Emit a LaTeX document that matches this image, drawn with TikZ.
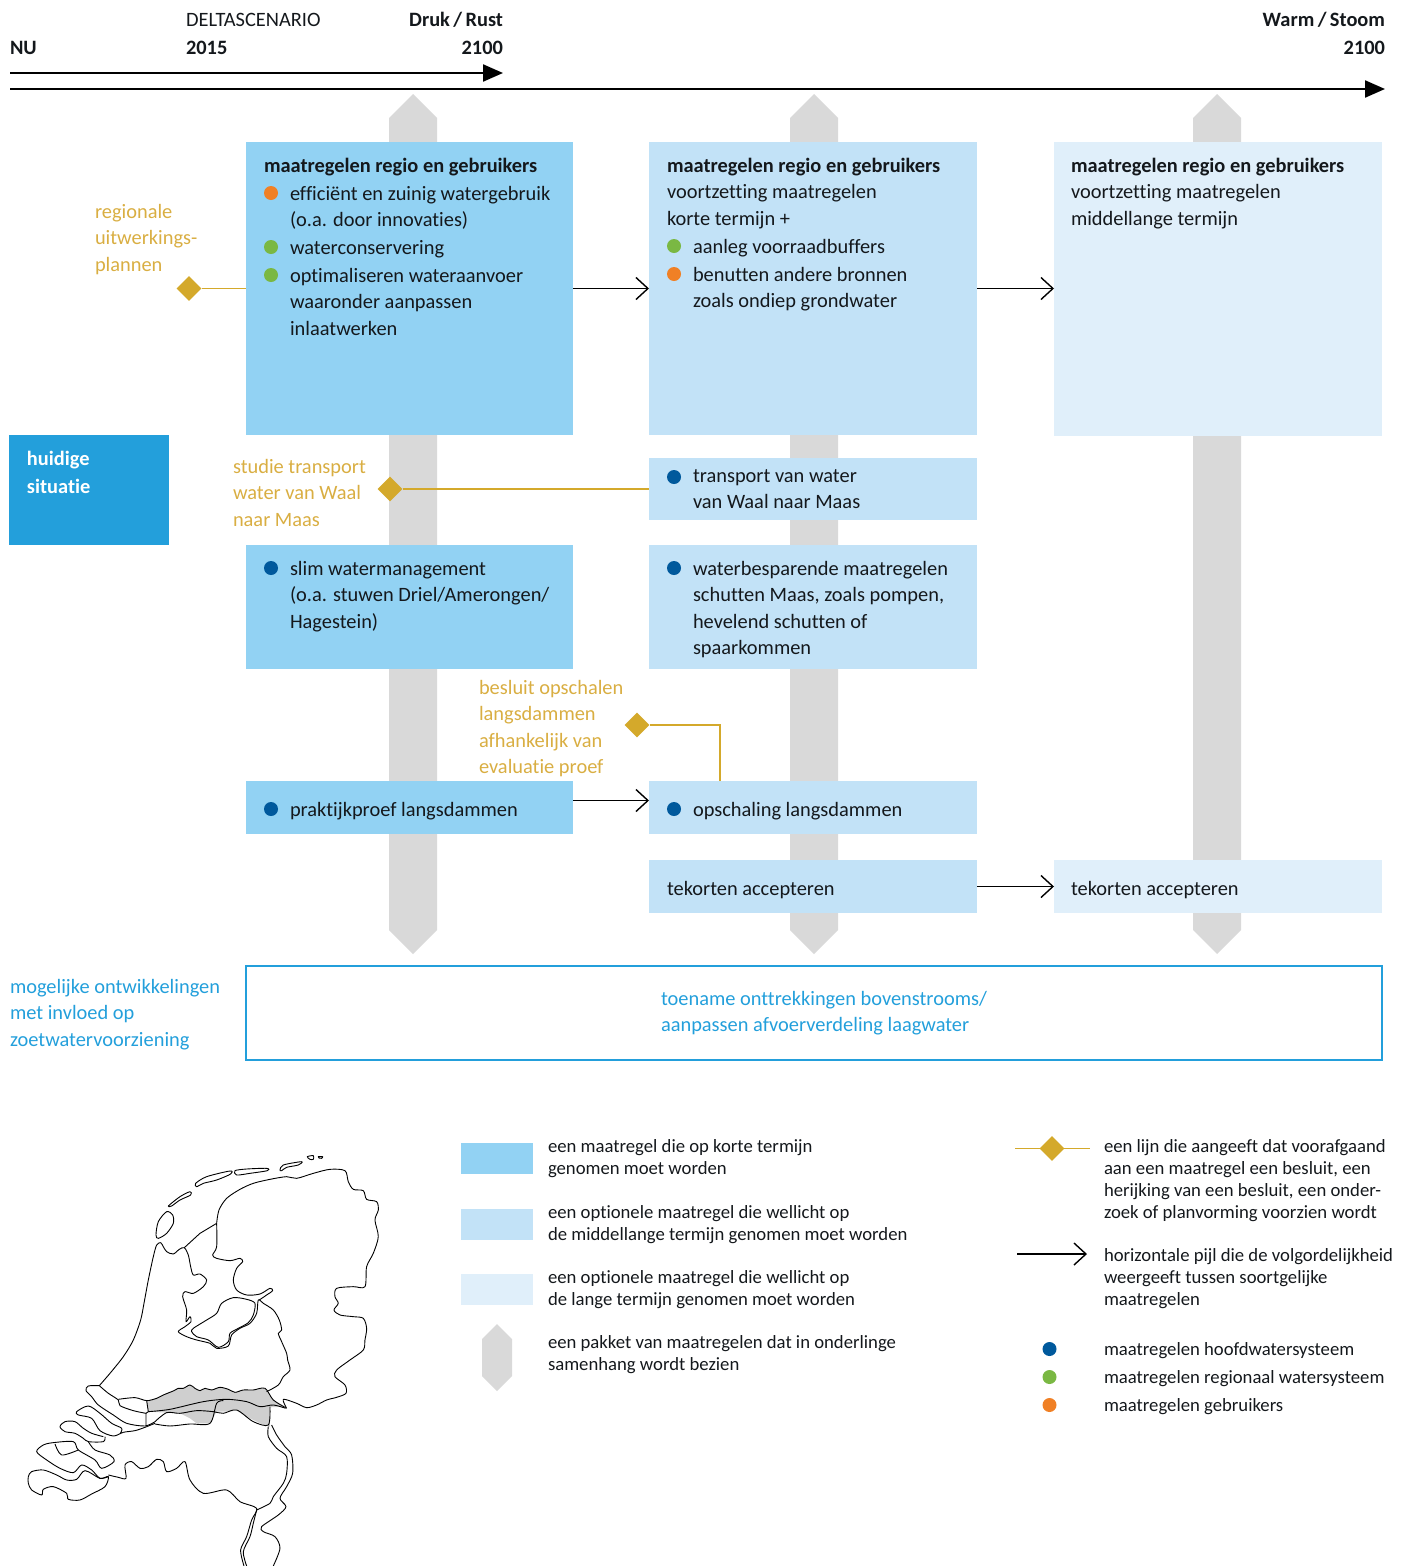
\documentclass[tikz,border=0pt]{standalone}
\usepackage{fontspec}
\setmainfont{Carlito}[Ligatures=NoCommon]
\usepackage{tikz}
\usetikzlibrary{arrows.meta,calc,shapes.geometric}
\definecolor{kortblue}{HTML}{92D2F3}
\definecolor{middenblue}{HTML}{C2E2F7}
\definecolor{langblue}{HTML}{E0EFFA}
\definecolor{nowblue}{HTML}{239FDB}
\definecolor{hoofdblue}{HTML}{00599C}
\definecolor{regiogreen}{HTML}{7AB843}
\definecolor{userorange}{HTML}{F08025}
\definecolor{gold}{HTML}{D4A92B}
\definecolor{goldtext}{HTML}{D9AE42}
\definecolor{pakketgrey}{HTML}{D9D9D9}
\definecolor{mapgrey}{HTML}{CFCFCF}
\definecolor{inktext}{HTML}{14181C}
\tikzset{
    box/.style={anchor=north west, inner sep=0pt, outer sep=0pt},
    txt/.style={anchor=north west, inner sep=0pt, outer sep=0pt, align=left, text=inktext,
        font=\fontsize{20.4}{26.5}\selectfont, yshift=18.55pt},
    txtr/.style={txt, anchor=north east, align=right},
    legendtxt/.style={anchor=north west, inner sep=0pt, outer sep=0pt, align=left, text=inktext,
        font=\fontsize{18.7}{22}\selectfont, yshift=15.4pt},
    dot/.style={circle, inner sep=0pt, minimum size=14pt},
    golddiamond/.style={diamond, fill=gold, inner sep=0pt, minimum size=25pt},
    goldline/.style={gold, line width=1.6pt},
    steparrow/.style={-{Straight Barb[length=12pt,width=22pt,line width=1.4pt]}, line width=1.5pt},
    timeline/.style={-{Triangle[length=20pt,width=17pt]}, line width=2.2pt},
    mapline/.style={black, line width=0.9pt, line join=round},
}
\begin{document}
\begin{tikzpicture}[x=1pt,y=-1pt]
    \useasboundingbox (0,0) rectangle (1406,1566);

    % Timelines
    \coordinate (nuTop) at (10,73);
    \coordinate (rustEnd) at (503,73);
    \coordinate (nuLow) at (10,89);
    \coordinate (stoomEnd) at (1385,89);
    \draw[timeline] (nuTop) -- (rustEnd);
    \draw[timeline] (nuLow) -- (stoomEnd);
    \node[txt] (nu) at (10,54) {\strut\textbf{NU}};
    \node[txt] (delta) at (186,26) {\strut DELTASCENARIO};
    \node[txt] (jaarNu) at (186,54) {\strut\textbf{2015}};
    \node[txtr] (rust) at (503,26) {\strut\textbf{Druk\,/\,Rust}};
    \node[txtr] (jaarRust) at (503,54) {\strut\textbf{2100}};
    \node[txtr] (stoom) at (1385,26) {\strut\textbf{Warm\,/\,Stoom}};
    \node[txtr] (jaarStoom) at (1385,54) {\strut\textbf{2100}};

    % Grey packages
    \foreach \cx in {413,814,1217} {
        \fill[pakketgrey] (\cx-24,118) -- (\cx,94) -- (\cx+24,118) -- (\cx+24,930) -- (\cx,954) -- (\cx-24,930) -- cycle;
    }

    % Boxes
    \node[box, fill=nowblue, minimum width=160pt, minimum height=110pt] (huidig) at (9,435) {};
    \node[box, fill=kortblue, minimum width=327pt, minimum height=293pt] (regioKort) at (246,142) {};
    \node[box, fill=middenblue, minimum width=328pt, minimum height=293pt] (regioMidden) at (649,142) {};
    \node[box, fill=langblue, minimum width=328pt, minimum height=294pt] (regioLang) at (1054,142) {};
    \node[box, fill=middenblue, minimum width=328pt, minimum height=62pt] (transport) at (649,458) {};
    \node[box, fill=kortblue, minimum width=327pt, minimum height=124pt] (slim) at (246,545) {};
    \node[box, fill=middenblue, minimum width=328pt, minimum height=124pt] (sparen) at (649,545) {};
    \node[box, fill=kortblue, minimum width=327pt, minimum height=53pt] (proef) at (246,781) {};
    \node[box, fill=middenblue, minimum width=328pt, minimum height=53pt] (schaal) at (649,781) {};
    \node[box, fill=middenblue, minimum width=328pt, minimum height=53pt] (tekortMidden) at (649,860) {};
    \node[box, fill=langblue, minimum width=328pt, minimum height=53pt] (tekortLang) at (1054,860) {};
    \node[box, draw=nowblue, line width=1.6pt, minimum width=1136pt, minimum height=94pt] (ontwikkeling) at (246,966) {};

    % Arrows between boxes
    \draw[steparrow] (regioKort.east) -- (regioMidden.west);
    \draw[steparrow] (regioMidden.east) -- (regioMidden.east -| regioLang.west);
    \draw[steparrow] ($(proef.east)+(0,-7)$) -- ($(schaal.west)+(0,-7)$);
    \draw[steparrow] (tekortMidden.east) -- (tekortLang.west);

    % Decision lines
    \node[golddiamond] (markRegio) at (189,288.5) {};
    \node[golddiamond] (markStudie) at (390,489) {};
    \node[golddiamond] (markBesluit) at (637,725) {};
    \coordinate (schaalTop) at (720,781);
    \draw[goldline] (markRegio) -- (regioKort.west);
    \draw[goldline] (markStudie) -- (transport.west);
    \draw[goldline] (markBesluit) -| (schaalTop);

    % Gold labels
    \node[txt, text=goldtext] (lblRegio) at (95,218) {\strut regionale\\uitwerkings-\\plannen};
    \node[txt, text=goldtext] (lblStudie) at (233,473) {\strut studie transport\\water van Waal\\naar Maas};
    \node[txt, text=goldtext] (lblBesluit) at (479,694) {\strut besluit opschalen\\langsdammen\\afhankelijk van\\evaluatie proef};

    % Text first column
    \node[txt, text=white] (lblHuidig) at (27,465) {\strut\textbf{huidige}\\[1.5pt]\textbf{situatie}};
    \node[txt] (kopKort) at (264,172) {\strut\textbf{maatregelen regio en gebruikers}};
    \node[dot, fill=userorange] (dotK1) at (271,193) {};
    \node[txt] (itemK1) at (290,200) {\strut efficiënt en zuinig watergebruik\\(o.a. door innovaties)};
    \node[dot, fill=regiogreen] (dotK2) at (271,247) {};
    \node[txt] (itemK2) at (290,254) {\strut waterconservering};
    \node[dot, fill=regiogreen] (dotK3) at (271,275) {};
    \node[txt] (itemK3) at (290,282) {\strut optimaliseren wateraanvoer\\waaronder aanpassen\\inlaatwerken};
    \node[dot, fill=hoofdblue] (dotSlim) at (271,568) {};
    \node[txt] (itemSlim) at (290,575) {\strut slim watermanagement\\(o.a. stuwen Driel/Amerongen/\\Hagestein)};
    \node[dot, fill=hoofdblue] (dotProef) at (271,809) {};
    \node[txt] (itemProef) at (290,816) {\strut praktijkproef langsdammen};

    % Text second column
    \node[txt] (kopMidden) at (667,172) {\strut\textbf{maatregelen regio en gebruikers}\\voortzetting maatregelen\\korte termijn +};
    \node[dot, fill=regiogreen] (dotM1) at (674,246) {};
    \node[txt] (itemM1) at (693,253) {\strut aanleg voorraadbuffers};
    \node[dot, fill=userorange] (dotM2) at (674,274) {};
    \node[txt] (itemM2) at (693,281) {\strut benutten andere bronnen\\zoals ondiep grondwater};
    \node[dot, fill=hoofdblue] (dotTransport) at (674,477) {};
    \node[txt] (itemTransport) at (693,482) {\strut transport van water\\van Waal naar Maas};
    \node[dot, fill=hoofdblue] (dotSparen) at (674,568) {};
    \node[txt] (itemSparen) at (693,575) {\strut waterbesparende maatregelen\\schutten Maas, zoals pompen,\\hevelend schutten of\\spaarkommen};
    \node[dot, fill=hoofdblue] (dotSchaal) at (674,809) {};
    \node[txt] (itemSchaal) at (693,816) {\strut opschaling langsdammen};
    \node[txt] (itemTekortM) at (667,895) {\strut tekorten accepteren};

    % Text third column
    \node[txt] (kopLang) at (1071,172) {\strut\textbf{maatregelen regio en gebruikers}\\voortzetting maatregelen\\middellange termijn};
    \node[txt] (itemTekortL) at (1071,895) {\strut tekorten accepteren};

    % Developments
    \node[txt, text=nowblue] (lblMogelijk) at (10,993) {\strut mogelijke ontwikkelingen\\met invloed op\\zoetwatervoorziening};
    \node[txt, text=nowblue] (lblToename) at (661,1005) {\strut toename onttrekkingen bovenstrooms/\\aanpassen afvoerverdeling laagwater};

    % Legend middle
    \node[box, fill=kortblue, minimum width=72pt, minimum height=31pt] (keyKort) at (461,1143) {};
    \node[box, fill=middenblue, minimum width=72pt, minimum height=31pt] (keyMidden) at (461,1209) {};
    \node[box, fill=langblue, minimum width=72pt, minimum height=31pt] (keyLang) at (461,1274) {};
    \fill[pakketgrey] (482,1339) -- (497,1324) -- (512,1339) -- (512,1376) -- (497,1391) -- (482,1376) -- cycle;
    \node[legendtxt] (txtKort) at (548,1152) {\strut een maatregel die op korte termijn\\genomen moet worden};
    \node[legendtxt] (txtMidden) at (548,1218) {\strut een optionele maatregel die wellicht op\\de middellange termijn genomen moet worden};
    \node[legendtxt] (txtLang) at (548,1283) {\strut een optionele maatregel die wellicht op\\de lange termijn genomen moet worden};
    \node[legendtxt] (txtPakket) at (548,1348) {\strut een pakket van maatregelen dat in onderlinge\\samenhang wordt bezien};

    % Legend right
    \coordinate (keyLineA) at (1015,1148.5);
    \coordinate (keyLineB) at (1090,1148.5);
    \coordinate (keyArrowA) at (1017,1254);
    \coordinate (keyArrowB) at (1087,1254);
    \draw[goldline] (keyLineA) -- (keyLineB);
    \node[golddiamond] (keyMark) at (1052,1148.5) {};
    \draw[steparrow] (keyArrowA) -- (keyArrowB);
    \node[legendtxt] (txtMark) at (1104,1152) {\strut een lijn die aangeeft dat voorafgaand\\aan een maatregel een besluit, een\\herijking van een besluit, een onder-\\zoek of planvorming voorzien wordt};
    \node[legendtxt] (txtArrow) at (1104,1261) {\strut horizontale pijl die de volgordelijkheid\\weergeeft tussen soortgelijke\\maatregelen};
    \node[dot, fill=hoofdblue] (keyHoofd) at (1049.5,1349) {};
    \node[dot, fill=regiogreen] (keyRegio) at (1049.5,1377) {};
    \node[dot, fill=userorange] (keyUser) at (1049.5,1405) {};
    \node[legendtxt] (txtHoofd) at (1104,1355) {\strut maatregelen hoofdwatersysteem};
    \node[legendtxt] (txtRegio) at (1104,1383) {\strut maatregelen regionaal watersysteem};
    \node[legendtxt] (txtUser) at (1104,1411) {\strut maatregelen gebruikers};

    % Map
    \begin{scope}[shift={(20,1140)}, x=0.3333pt, y=-0.3333pt]
        \fill[mapgrey] (380,782) -- (410,775) -- (430,765) -- (462,752) -- (475,745) -- (490,745) -- (510,735) -- (525,745) -- (540,752) -- (555,745) -- (575,750) -- (600,742) -- (625,748) -- (645,757) -- (670,750) -- (700,750) -- (735,745) -- (760,780) -- (795,800) -- (750,802) -- (750,860) -- (730,855) -- (690,835) -- (650,812) -- (620,815) -- (590,815) -- (570,850) -- (530,850) -- (510,835) -- (480,820) -- (440,818) -- (385,815) -- cycle;
        % West coast and lake shore
        \draw[mapline] plot[smooth, tension=0.5] coordinates {(238,737) (270,700) (310,650) (340,600) (362,540) (372,490) (385,420) (400,350) (410,315) (422,308) (430,320) (440,335) (460,342) (478,328) (493,323) (505,345) (512,380) (520,405) (540,402) (560,420) (550,440) (520,460) (495,455) (488,470) (500,510) (498,545) (510,530) (513,545) (495,560) (475,575) (500,590) (530,600) (570,610) (590,625) (625,618) (635,585) (660,565) (690,550) (710,520) (715,480) (730,490) (760,510) (778,540) (785,570) (775,580) (785,605) (800,640) (803,660) (810,690) (790,710) (775,735) (740,755)};
        % Flevoland
        \draw[mapline] plot[smooth cycle, tension=0.5] coordinates {(520,565) (560,540) (590,520) (605,490) (640,473) (680,478) (705,490) (700,525) (685,548) (655,565) (630,580) (625,605) (595,622) (565,600) (530,590) (515,575)};
        % Dam
        \draw[mapline] (493,323) -- (540,280) -- (590,250);
        % North and east border
        \draw[mapline] plot[smooth, tension=0.5] coordinates {(590,250) (597,210) (620,175) (660,148) (700,130) (750,118) (800,110) (830,115) (880,100) (930,88) (975,92) (985,125) (1000,148) (1030,152) (1040,178) (1070,185) (1075,210) (1065,240) (1075,290) (1060,340) (1040,380) (1035,440) (1000,440) (950,445) (945,470) (955,490) (942,510) (960,525) (1000,530) (1030,535) (1040,565) (1035,600) (1030,630) (990,660) (950,690) (945,710) (975,735) (978,760) (950,772) (920,780) (890,795) (860,803) (830,790) (790,778) (800,805)};
        \draw[mapline] plot[smooth, tension=0.5] coordinates {(590,250) (590,320) (578,345) (590,355) (630,362) (660,355) (668,365) (650,385) (640,420) (650,450) (680,465) (720,462) (750,445) (758,452) (740,465) (718,480)};
        % Rivers
        \draw[mapline] plot[smooth, tension=0.5] coordinates {(295,778) (345,773) (380,782) (410,775) (430,765) (462,752) (475,745) (490,745) (510,735) (525,745) (540,752) (555,745) (575,750) (600,742) (625,748) (645,757) (670,750) (700,750) (735,745) (760,780) (797,803)};
        \draw[mapline] plot[smooth, tension=0.5] coordinates {(385,815) (450,808) (550,785) (620,778) (680,785) (720,800) (760,795) (797,805)};
        \draw[mapline] plot[smooth, tension=0.5] coordinates {(405,845) (440,818) (480,820) (530,812) (580,815) (610,820) (650,810) (700,845) (745,855) (750,800)};
        \draw[mapline] (380,782) -- (385,815) -- (378,820) -- (378,856);
        \draw[mapline] plot[smooth, tension=0.5] coordinates {(405,852) (450,858) (510,852) (570,850) (590,790) (610,782)};
        % Meuse
        \draw[mapline] plot[smooth, tension=0.5] coordinates {(745,860) (745,890) (770,925) (800,950) (800,1000) (790,1030) (760,1070) (750,1090) (710,1110)};
        \draw[mapline] plot[smooth, tension=0.5] coordinates {(755,855) (770,885) (795,920) (815,945) (818,1000) (800,1040) (780,1075) (798,1100) (775,1125) (725,1160) (730,1175) (765,1190) (780,1225) (760,1278)};
        % South border
        \draw[mapline] plot[smooth, tension=0.5] coordinates {(265,1005) (295,1012) (318,1015) (315,975) (335,965) (360,985) (385,980) (410,958) (430,965) (440,995) (470,985) (495,965) (510,1020) (550,1060) (620,1050) (660,1085) (710,1105) (695,1140) (680,1190) (662,1230) (672,1278)};
        \draw[mapline] plot[smooth, tension=0.5] coordinates {(710,1110) (700,1150) (690,1190) (670,1235) (680,1278)};
        % Delta
        \draw[mapline] plot[smooth, tension=0.5] coordinates {(238,737) (205,738) (198,752) (215,770) (235,795) (280,825) (320,850) (375,858) (405,845)};
        \draw[mapline] plot[smooth, tension=0.5] coordinates {(238,737) (265,760) (295,780) (300,797) (340,812) (378,820)};
        \draw[mapline] plot[smooth, tension=0.5] coordinates {(405,850) (375,862) (345,872) (310,877) (280,888) (240,872) (215,835) (175,825) (170,815) (205,798) (240,820) (275,850) (305,865) (300,882)};
        \draw[mapline] plot[smooth, tension=0.5] coordinates {(250,890) (215,880) (190,865) (165,845) (135,845) (120,860) (135,875) (165,880) (190,895) (205,905) (250,905) (255,890)};
        \draw[mapline] plot[smooth, tension=0.5] coordinates {(205,905) (225,930) (270,945) (282,965) (245,985) (225,960) (175,930) (160,905) (100,908) (70,915) (50,935) (80,960) (120,985) (160,998) (185,975) (215,990) (240,1015) (265,1010)};
        \draw[mapline] plot[smooth, tension=0.5] coordinates {(105,912) (125,945) (175,930)};
        \draw[mapline] plot[smooth cycle, tension=0.5] coordinates {(25,1010) (35,995) (70,990) (110,1005) (140,1020) (170,1018) (195,992) (240,1015) (265,1010) (255,1040) (215,1062) (180,1080) (145,1078) (140,1060) (100,1040) (70,1048) (65,1065) (35,1050) (25,1030)};
        % Islands
        \draw[mapline] plot[smooth cycle, tension=0.5] coordinates {(408,285) (415,245) (440,215) (458,225) (460,250) (440,280) (415,295)};
        \draw[mapline] plot[smooth cycle, tension=0.5] coordinates {(445,198) (480,170) (510,155) (512,165) (480,180) (455,198)};
        \draw[mapline] plot[smooth cycle, tension=0.5] coordinates {(527,130) (560,110) (630,93) (632,102) (590,120) (550,130) (530,140)};
        \draw[mapline] plot[smooth cycle, tension=0.5] coordinates {(645,92) (680,87) (740,85) (742,92) (690,100) (650,105)};
        \draw[mapline] plot[smooth cycle, tension=0.5] coordinates {(780,90) (790,75) (845,65) (835,75) (800,82) (785,92)};
        \draw[mapline] plot[smooth cycle, tension=0.5] coordinates {(862,50) (880,47) (880,58) (870,58)};
        \draw[mapline] plot[smooth cycle, tension=0.5] coordinates {(895,50) (908,50) (905,55) (897,54)};
    \end{scope}
\end{tikzpicture}
\end{document}
